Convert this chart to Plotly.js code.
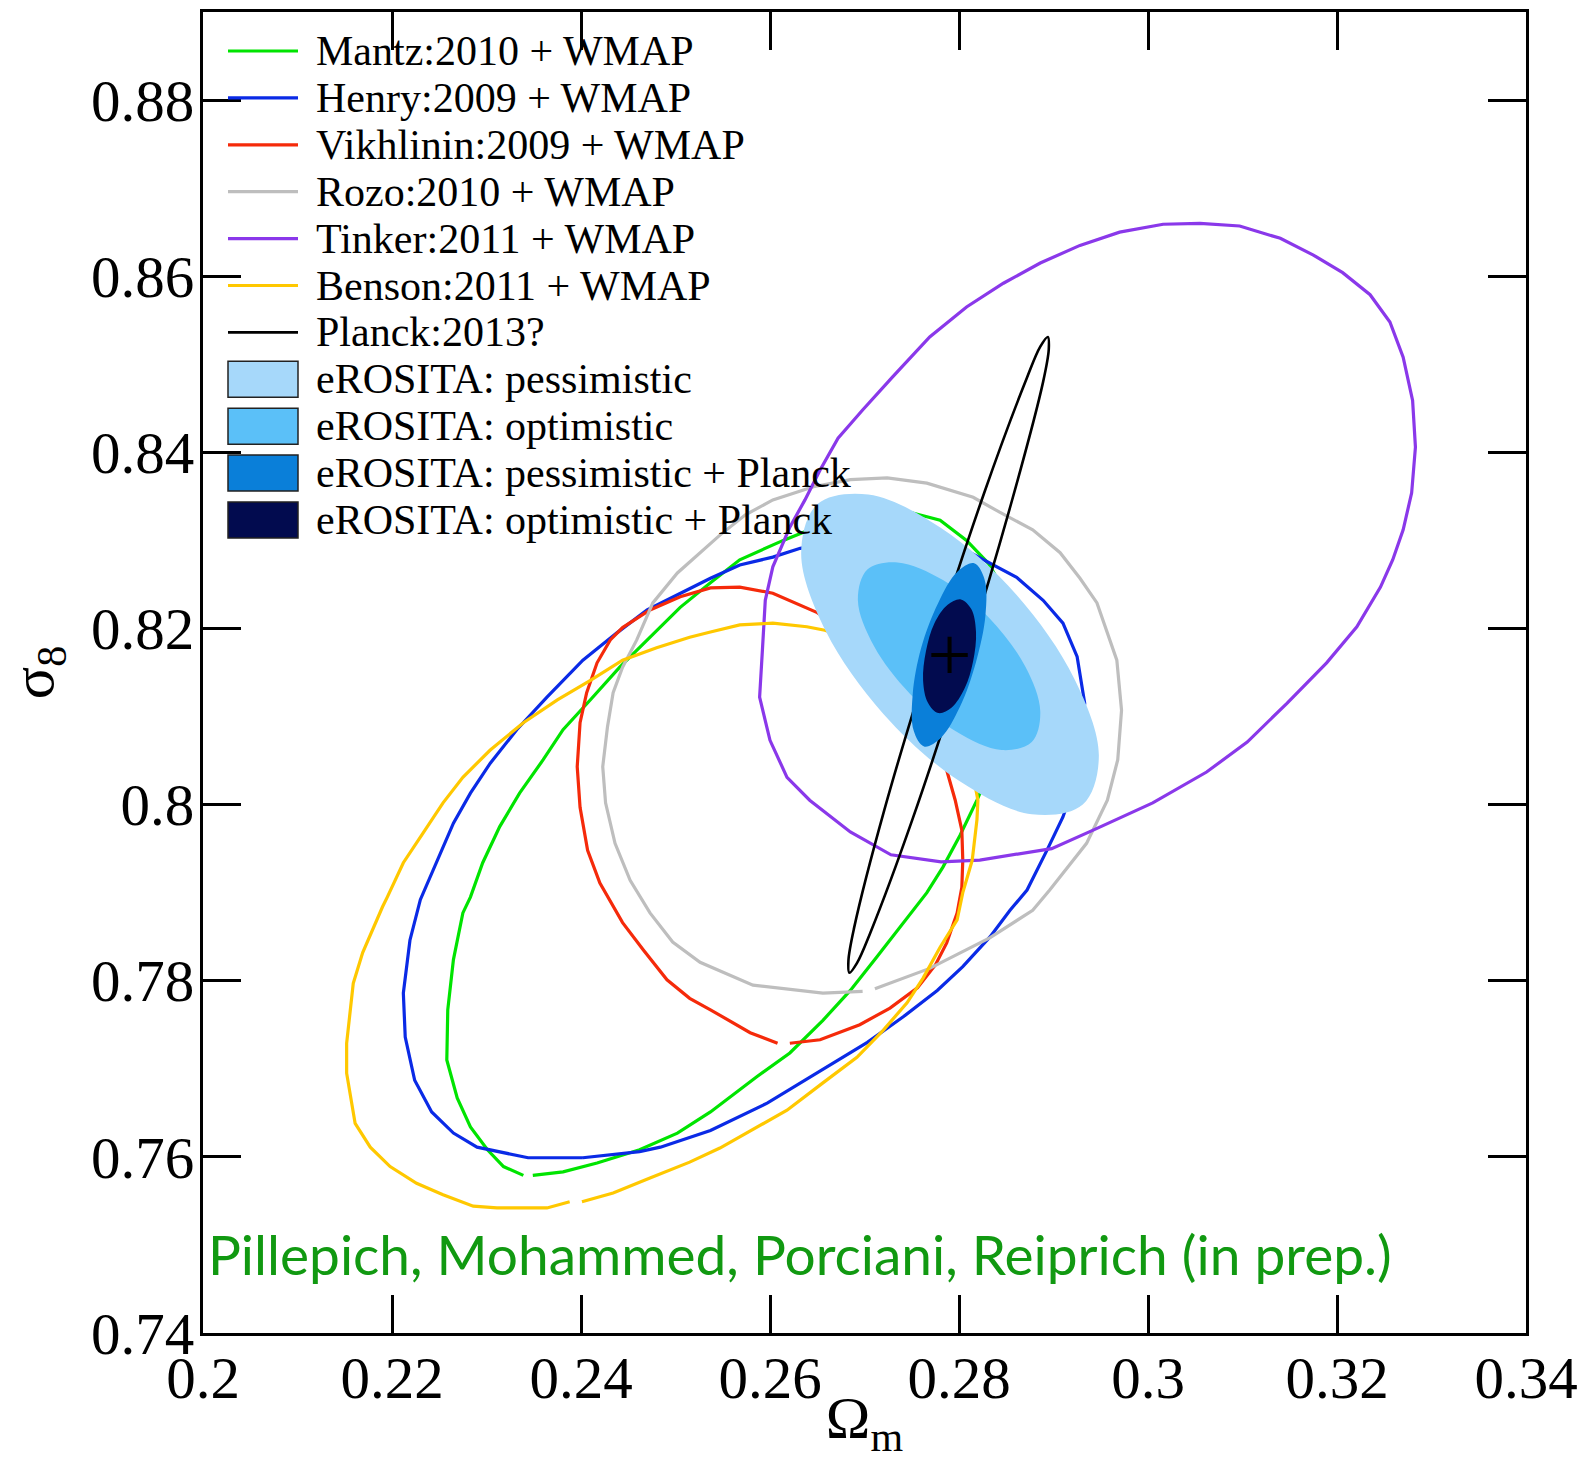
<!DOCTYPE html>
<html><head><meta charset="utf-8">
<script src="https://cdn.plot.ly/plotly-3.0.1.min.js"></script>
<style>html,body{margin:0;padding:0;background:#fff}#chart{width:1587px;height:1460px}</style>
</head><body><div id="chart"></div>
<script>
// ---------------- data ----------------
const xTickVals = [0.2, 0.22, 0.24, 0.26, 0.28, 0.3, 0.32, 0.34];
const xTickText = ['0.2', '0.22', '0.24', '0.26', '0.28', '0.3', '0.32', '0.34'];
const yTickVals = [0.74, 0.76, 0.78, 0.8, 0.82, 0.84, 0.86, 0.88];
const yTickText = ['0.74', '0.76', '0.78', '0.8', '0.82', '0.84', '0.86', '0.88'];

const mantzX = [0.2349,0.2381,0.2417,0.2462,0.2502,0.2537,0.2586,0.2621,0.2656,0.2685,0.2713,0.2741,0.2766,0.2783,0.2801,0.2819,0.2833,0.2843,0.2852,0.2852,0.2843,0.2831,0.2808,0.2780,0.2748,0.2716,0.2685,0.2642,0.2614,0.2568,0.2537,0.2505,0.2473,0.2441,0.2410,0.2381,0.2360,0.2335,0.2314,0.2296,0.2283,0.2275,0.2265,0.2259,0.2258,0.2269,0.2283,0.2301,0.2318,0.2339];
const mantzY = [0.7579,0.7583,0.7593,0.7608,0.7627,0.7651,0.7691,0.7718,0.7755,0.7789,0.7827,0.7866,0.7900,0.7929,0.7965,0.8005,0.8039,0.8073,0.8130,0.8187,0.8252,0.8274,0.8300,0.8323,0.8332,0.8335,0.8329,0.8312,0.8300,0.8278,0.8252,0.8224,0.8190,0.8156,0.8119,0.8085,0.8051,0.8013,0.7975,0.7934,0.7895,0.7877,0.7824,0.7767,0.7710,0.7667,0.7634,0.7608,0.7589,0.7579];

const henryX = [0.2402,0.2462,0.2484,0.2537,0.2597,0.2656,0.2703,0.2741,0.2777,0.2804,0.2833,0.2854,0.2872,0.2893,0.2910,0.2920,0.2928,0.2933,0.2925,0.2910,0.2889,0.2861,0.2836,0.2812,0.2780,0.2738,0.2685,0.2632,0.2603,0.2568,0.2537,0.2505,0.2470,0.2438,0.2402,0.2364,0.2332,0.2304,0.2283,0.2265,0.2248,0.2230,0.2219,0.2212,0.2214,0.2224,0.2242,0.2265,0.2290,0.2344,0.2402];
const henryY = [0.7599,0.7606,0.7611,0.7630,0.7661,0.7699,0.7730,0.7759,0.7789,0.7816,0.7850,0.7880,0.7903,0.7948,0.7986,0.8017,0.8062,0.8115,0.8168,0.8206,0.8232,0.8258,0.8272,0.8286,0.8297,0.8303,0.8300,0.8291,0.8281,0.8272,0.8257,0.8240,0.8221,0.8195,0.8164,0.8122,0.8085,0.8047,0.8013,0.7979,0.7937,0.7892,0.7846,0.7786,0.7736,0.7687,0.7651,0.7627,0.7611,0.7599,0.7599];

const vikhlininX = [0.2621,0.2653,0.2695,0.2727,0.2756,0.2775,0.2787,0.2798,0.2803,0.2804,0.2803,0.2796,0.2787,0.2769,0.2738,0.2695,0.2650,0.2603,0.2568,0.2537,0.2505,0.2473,0.2444,0.2431,0.2417,0.2406,0.2399,0.2396,0.2399,0.2407,0.2420,0.2444,0.2466,0.2491,0.2515,0.2537,0.2579,0.2608];
const vikhlininY = [0.7729,0.7733,0.7750,0.7769,0.7792,0.7818,0.7843,0.7877,0.7906,0.7937,0.7971,0.8005,0.8039,0.8090,0.8141,0.8187,0.8218,0.8240,0.8247,0.8246,0.8236,0.8221,0.8201,0.8187,0.8161,0.8127,0.8093,0.8043,0.7997,0.7948,0.7911,0.7866,0.7835,0.7801,0.7780,0.7767,0.7741,0.7729];

const rozoX = [0.2711,0.2769,0.2833,0.2878,0.2896,0.2935,0.2957,0.2968,0.2972,0.2967,0.2946,0.2928,0.2907,0.2878,0.2843,0.2815,0.2766,0.2724,0.2685,0.2646,0.2603,0.2574,0.2547,0.2517,0.2502,0.2476,0.2459,0.2444,0.2434,0.2428,0.2423,0.2426,0.2436,0.2452,0.2473,0.2497,0.2526,0.2582,0.2656,0.2698];
const rozoY = [0.7791,0.7814,0.7849,0.7880,0.7903,0.7956,0.8005,0.8051,0.8107,0.8164,0.8229,0.8257,0.8286,0.8312,0.8332,0.8349,0.8365,0.8371,0.8369,0.8361,0.8346,0.8329,0.8306,0.8278,0.8263,0.8229,0.8187,0.8156,0.8127,0.8088,0.8043,0.8002,0.7956,0.7914,0.7877,0.7844,0.7821,0.7795,0.7786,0.7788];

const tinkerX = [0.2592,0.2595,0.2603,0.2621,0.2637,0.2653,0.2672,0.2698,0.2730,0.2769,0.2808,0.2847,0.2886,0.2928,0.2970,0.3016,0.3055,0.3097,0.3140,0.3175,0.3206,0.3235,0.3256,0.3270,0.3280,0.3283,0.3279,0.3270,0.3259,0.3246,0.3221,0.3189,0.3147,0.3105,0.3062,0.3005,0.2942,0.2898,0.2822,0.2781,0.2728,0.2685,0.2642,0.2618,0.2600,0.2589,0.2592];
const tinkerY = [0.8176,0.8232,0.8270,0.8315,0.8346,0.8380,0.8416,0.8448,0.8486,0.8531,0.8565,0.8592,0.8615,0.8635,0.8650,0.8659,0.8660,0.8657,0.8643,0.8624,0.8604,0.8579,0.8548,0.8508,0.8459,0.8406,0.8354,0.8312,0.8278,0.8247,0.8202,0.8161,0.8115,0.8071,0.8037,0.8002,0.7971,0.7950,0.7937,0.7935,0.7943,0.7969,0.8005,0.8031,0.8073,0.8122,0.8176];

const bensonX = [0.2401,0.2434,0.2473,0.2515,0.2547,0.2618,0.2656,0.2692,0.2720,0.2745,0.2762,0.2780,0.2798,0.2804,0.2810,0.2814,0.2819,0.2820,0.2812,0.2791,0.2753,0.2706,0.2658,0.2639,0.2603,0.2568,0.2537,0.2515,0.2480,0.2444,0.2410,0.2375,0.2339,0.2304,0.2275,0.2254,0.2233,0.2212,0.2195,0.2190,0.2169,0.2159,0.2152,0.2152,0.2161,0.2177,0.2198,0.2226,0.2254,0.2286,0.2311,0.2364,0.2388];
const bensonY = [0.7549,0.7559,0.7576,0.7594,0.7610,0.7653,0.7684,0.7713,0.7744,0.7775,0.7803,0.7838,0.7869,0.7900,0.7922,0.7937,0.7983,0.8005,0.8051,0.8102,0.8147,0.8181,0.8198,0.8202,0.8206,0.8204,0.8196,0.8190,0.8178,0.8164,0.8141,0.8119,0.8093,0.8062,0.8031,0.8002,0.7968,0.7934,0.7895,0.7884,0.7832,0.7797,0.7729,0.7695,0.7638,0.7611,0.7589,0.7570,0.7557,0.7544,0.7542,0.7542,0.7549];

const planckX = [0.2894,0.2895,0.2889,0.2856,0.2806,0.2751,0.2706,0.2692,0.2684,0.2683,0.2689,0.2721,0.2772,0.2827,0.2872,0.2886,0.2894];
const planckY = [0.8531,0.8517,0.8480,0.8345,0.8164,0.7984,0.7854,0.7820,0.7809,0.7823,0.7860,0.7994,0.8176,0.8355,0.8485,0.8520,0.8531];

const pessX = [0.2931,0.2877,0.2800,0.2720,0.2659,0.2633,0.2650,0.2704,0.2781,0.2861,0.2922,0.2948,0.2931];
const pessY = [0.8000,0.7989,0.8027,0.8103,0.8197,0.8285,0.8341,0.8352,0.8314,0.8238,0.8143,0.8056,0.8000];
const optX = [0.2877,0.2845,0.2797,0.2748,0.2710,0.2693,0.2703,0.2735,0.2783,0.2832,0.2870,0.2886,0.2877];
const optY = [0.8071,0.8062,0.8083,0.8126,0.8180,0.8232,0.8267,0.8275,0.8255,0.8212,0.8157,0.8106,0.8071];
const pessPlanckX = [0.2763,0.2752,0.2751,0.2760,0.2778,0.2798,0.2816,0.2827,0.2828,0.2818,0.2801,0.2781,0.2763];
const pessPlanckY = [0.8066,0.8084,0.8125,0.8178,0.8229,0.8264,0.8274,0.8256,0.8215,0.8162,0.8111,0.8076,0.8066];
const optPlanckX = [0.2778,0.2767,0.2762,0.2765,0.2774,0.2788,0.2802,0.2813,0.2818,0.2815,0.2806,0.2792,0.2778];
const optPlanckY = [0.8104,0.8116,0.8141,0.8174,0.8206,0.8227,0.8233,0.8222,0.8196,0.8163,0.8132,0.8110,0.8104];

const bestFitX = [0.2790];
const bestFitY = [0.8170];

const lineNames = ['Mantz:2010 + WMAP', 'Henry:2009 + WMAP', 'Vikhlinin:2009 + WMAP', 'Rozo:2010 + WMAP', 'Tinker:2011 + WMAP', 'Benson:2011 + WMAP', 'Planck:2013?'];
const lineColors = ['#00e400', '#0a2ae6', '#f52a0a', '#bebebe', '#8a38ea', '#ffc800', '#000000'];
const fillNames = ['eROSITA: pessimistic', 'eROSITA: optimistic', 'eROSITA: pessimistic + Planck', 'eROSITA: optimistic + Planck'];
const fillColors = ['#a6d8fa', '#5bc0f8', '#0a7fd9', '#020b4f'];
const creditText = 'Pillepich, Mohammed, Porciani, Reiprich (in prep.)';

// ---------------- traces ----------------
const contourData = [
  [mantzX, mantzY], [henryX, henryY], [vikhlininX, vikhlininY],
  [rozoX, rozoY], [tinkerX, tinkerY], [bensonX, bensonY]
];
const traces = [];
contourData.forEach((d, i) => {
  traces.push({type: 'scatter', mode: 'lines', x: d[0], y: d[1], name: lineNames[i],
    line: {color: lineColors[i], width: 3.2}, showlegend: false, hoverinfo: 'skip'});
});
function fillTrace(x, y, i) {
  return {type: 'scatter', mode: 'lines', x: x, y: y, name: fillNames[i], fill: 'toself',
    fillcolor: fillColors[i], line: {width: 0, shape: 'spline', smoothing: 1, color: fillColors[i]},
    showlegend: false, hoverinfo: 'skip'};
}
traces.push(fillTrace(pessX, pessY, 0));
traces.push(fillTrace(optX, optY, 1));
traces.push({type: 'scatter', mode: 'lines', x: planckX, y: planckY, name: lineNames[6],
  line: {color: lineColors[6], width: 2.6, shape: 'spline', smoothing: 1}, showlegend: false, hoverinfo: 'skip'});
traces.push(fillTrace(pessPlanckX, pessPlanckY, 2));
traces.push(fillTrace(optPlanckX, optPlanckY, 3));
traces.push({type: 'scatter', mode: 'markers', x: bestFitX, y: bestFitY, name: 'best fit',
  marker: {symbol: 'cross-thin', size: 26, color: '#000', line: {color: '#000', width: 4}},
  showlegend: false, hoverinfo: 'skip'});

// ---------------- layout ----------------
const W = 1587, H = 1460, mL = 203, mR = 61, mT = 12, mB = 127;
const plotW = W - mL - mR, plotH = H - mT - mB;
const px2x = p => (p - mL) / plotW;
const px2y = p => (H - mB - p) / plotH;

const shapes = [], annotations = [];
const rowStart = 51, rowStep = 46.9;
const symX0 = 228, symX1 = 298, textX = 314;
lineNames.forEach((n, i) => {
  const yy = px2y(rowStart + i * rowStep);
  shapes.push({type: 'line', xref: 'paper', yref: 'paper', x0: px2x(symX0), x1: px2x(symX1), y0: yy, y1: yy,
    line: {color: lineColors[i], width: i === 6 ? 2.6 : 3.2}});
  annotations.push({xref: 'paper', yref: 'paper', x: px2x(textX), y: yy, xanchor: 'left', yanchor: 'middle',
    text: n, showarrow: false, font: {family: 'Liberation Serif', size: 42, color: '#000'}});
});
fillNames.forEach((n, i) => {
  const yc = rowStart + (i + 7) * rowStep;
  shapes.push({type: 'rect', xref: 'paper', yref: 'paper', x0: px2x(symX0), x1: px2x(symX1),
    y0: px2y(yc + 18), y1: px2y(yc - 18), fillcolor: fillColors[i], line: {color: '#222', width: 1.5}});
  annotations.push({xref: 'paper', yref: 'paper', x: px2x(textX), y: px2y(yc), xanchor: 'left', yanchor: 'middle',
    text: n, showarrow: false, font: {family: 'Liberation Serif', size: 42, color: '#000'}});
});
annotations.push({xref: 'x', yref: 'y', x: 0.2003, y: 0.7490, xanchor: 'left', yanchor: 'middle',
  text: creditText, showarrow: false, font: {family: 'Lato', size: 55, color: '#119911'}});

const axisCommon = {
  showgrid: false, zeroline: false, showline: true, linewidth: 3, linecolor: '#000',
  mirror: 'ticks', ticks: 'inside', ticklen: 38, tickwidth: 3, tickcolor: '#000',
  tickfont: {family: 'Liberation Serif', size: 59, color: '#000'}, fixedrange: true
};
const layout = {
  width: W, height: H, margin: {l: mL, r: mR, t: mT, b: mB, pad: 0},
  paper_bgcolor: '#fff', plot_bgcolor: '#fff', showlegend: false, hovermode: false,
  xaxis: Object.assign({}, axisCommon, {range: [0.2, 0.34], tickmode: 'array', tickvals: xTickVals, ticktext: xTickText,
    ticklabelstandoff: -9,
    title: {text: 'Ω<sub>m</sub>', font: {family: 'Liberation Serif', size: 60, color: '#000'}, standoff: 25}}),
  yaxis: Object.assign({}, axisCommon, {range: [0.74, 0.89], tickmode: 'array', tickvals: yTickVals, ticktext: yTickText,
    ticklabelstandoff: -6,
    title: {text: 'σ<sub>8</sub>', font: {family: 'Liberation Serif', size: 60, color: '#000'}, standoff: 36}}),
  shapes: shapes, annotations: annotations
};
Plotly.newPlot('chart', traces, layout, {displayModeBar: false, staticPlot: true});
</script></body></html>
